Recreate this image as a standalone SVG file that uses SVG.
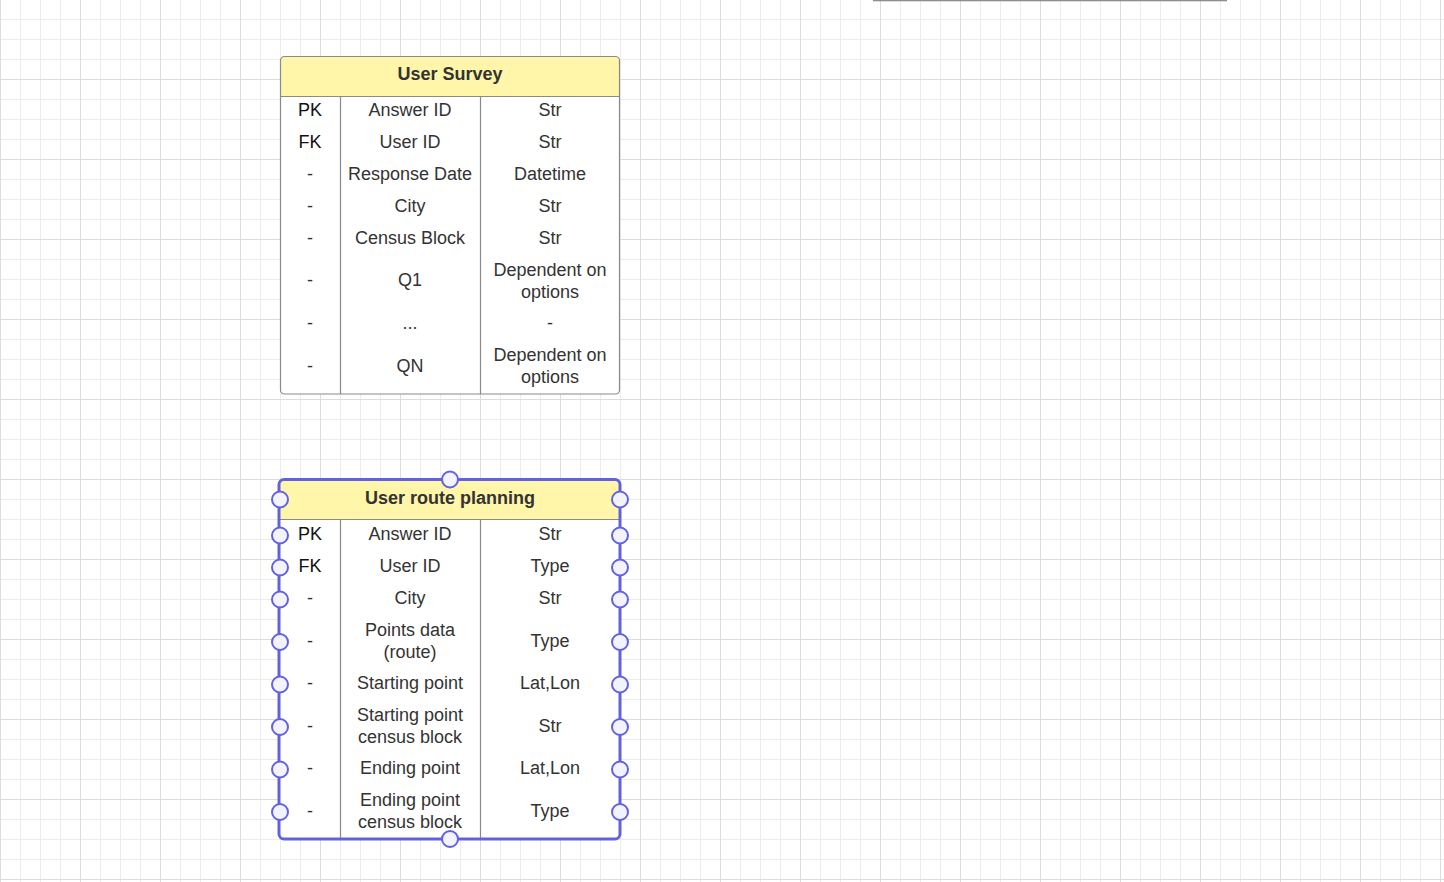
<svg xmlns="http://www.w3.org/2000/svg" width="1444" height="882" viewBox="0 0 1444 882">
<defs>
<pattern id="minor" patternUnits="userSpaceOnUse" x="0" y="-1" width="20" height="20">
<path d="M0.5 0V20M0 0.5H20" stroke="#ececec" stroke-width="1" fill="none"/>
</pattern>
<pattern id="major" patternUnits="userSpaceOnUse" x="0" y="-1" width="80" height="80">
<path d="M0.5 0V80M0 0.5H80" stroke="#dcdcdc" stroke-width="1" fill="none"/>
</pattern>
</defs>
<style>
text{font-family:"Liberation Sans",Arial,sans-serif;font-size:18px;fill:#333;text-anchor:middle}
.h{font-weight:bold;fill:#333}
.k{fill:#111}
.frame{fill:#fff;stroke:none}
.border{fill:none;stroke:#8a8a8a;stroke-width:1.2}
.head{fill:#fff6a9}
.div{stroke:#8a8a8a;stroke-width:1.2;fill:none}
.sel{fill:none;stroke:#6262e0;stroke-width:3}
.hd{fill:#f3f3ff;stroke:#6262e0;stroke-width:2}
</style>
<rect width="1444" height="882" fill="#fff"/>
<rect width="1444" height="882" fill="url(#minor)"/>
<rect width="1444" height="882" fill="url(#major)"/>
<rect x="873" y="0" width="354" height="1.3" fill="#8e8e8e"/>

<g id="connectors"/>

<g id="user-survey">
<rect class="frame" x="280.5" y="56.5" width="339" height="337.5" rx="4"/>
<path class="head" d="M280.5 96V60.5a4 4 0 0 1 4-4H615.5a4 4 0 0 1 4 4V96Z"/>
<path class="div" d="M280.5 96.5H619.5M340.5 96.5V394M480.5 96.5V394"/>
<rect class="border" x="280.5" y="56.5" width="339" height="337.5" rx="4"/>
<text class="h" x="450" y="80">User Survey</text>
<text class="k" x="310" y="116">PK</text><text x="410" y="116">Answer ID</text><text x="550" y="116">Str</text>
<text class="k" x="310" y="148">FK</text><text x="410" y="148">User ID</text><text x="550" y="148">Str</text>
<text x="310" y="180">-</text><text x="410" y="180">Response Date</text><text x="550" y="180">Datetime</text>
<text x="310" y="212">-</text><text x="410" y="212">City</text><text x="550" y="212">Str</text>
<text x="310" y="244">-</text><text x="410" y="244">Census Block</text><text x="550" y="244">Str</text>
<text x="310" y="286">-</text><text x="410" y="286">Q1</text><text x="550" y="275.5">Dependent on</text><text x="550" y="297.5">options</text>
<text x="310" y="329">-</text><text x="410" y="329">...</text><text x="550" y="329">-</text>
<text x="310" y="371.5">-</text><text x="410" y="371.5">QN</text><text x="550" y="360.5">Dependent on</text><text x="550" y="382.5">options</text>
</g>

<g id="user-route-planning">
<rect class="frame" x="280" y="479.5" width="340" height="359" rx="4"/>
<path class="head" d="M280 519V483.5a4 4 0 0 1 4-4H616a4 4 0 0 1 4 4V519Z"/>
<path class="div" d="M280 519.5H620M340.5 519.5V838.5M480.5 519.5V838.5"/>
<rect class="sel" x="279" y="479.5" width="341" height="359.5" rx="5"/>
<text class="h" x="450" y="504">User route planning</text>
<text class="k" x="310" y="540">PK</text><text x="410" y="540">Answer ID</text><text x="550" y="540">Str</text>
<text class="k" x="310" y="572">FK</text><text x="410" y="572">User ID</text><text x="550" y="572">Type</text>
<text x="310" y="604">-</text><text x="410" y="604">City</text><text x="550" y="604">Str</text>
<text x="310" y="646.5">-</text><text x="410" y="635.5">Points data</text><text x="410" y="657.5">(route)</text><text x="550" y="646.5">Type</text>
<text x="310" y="689">-</text><text x="410" y="689">Starting point</text><text x="550" y="689">Lat,Lon</text>
<text x="310" y="731.5">-</text><text x="410" y="720.5">Starting point</text><text x="410" y="742.5">census block</text><text x="550" y="731.5">Str</text>
<text x="310" y="774">-</text><text x="410" y="774">Ending point</text><text x="550" y="774">Lat,Lon</text>
<text x="310" y="816.5">-</text><text x="410" y="805.5">Ending point</text><text x="410" y="827.5">census block</text><text x="550" y="816.5">Type</text>
<g id="handles">
<circle class="hd" cx="450" cy="479.5" r="8"/>
<circle class="hd" cx="450" cy="839" r="8"/>
<circle class="hd" cx="280" cy="499.5" r="8"/><circle class="hd" cx="620" cy="499.5" r="8"/>
<circle class="hd" cx="280" cy="535.5" r="8"/><circle class="hd" cx="620" cy="535.5" r="8"/>
<circle class="hd" cx="280" cy="567.5" r="8"/><circle class="hd" cx="620" cy="567.5" r="8"/>
<circle class="hd" cx="280" cy="599.5" r="8"/><circle class="hd" cx="620" cy="599.5" r="8"/>
<circle class="hd" cx="280" cy="642" r="8"/><circle class="hd" cx="620" cy="642" r="8"/>
<circle class="hd" cx="280" cy="684.5" r="8"/><circle class="hd" cx="620" cy="684.5" r="8"/>
<circle class="hd" cx="280" cy="727" r="8"/><circle class="hd" cx="620" cy="727" r="8"/>
<circle class="hd" cx="280" cy="769.5" r="8"/><circle class="hd" cx="620" cy="769.5" r="8"/>
<circle class="hd" cx="280" cy="812" r="8"/><circle class="hd" cx="620" cy="812" r="8"/>
</g>
</g>
</svg>
